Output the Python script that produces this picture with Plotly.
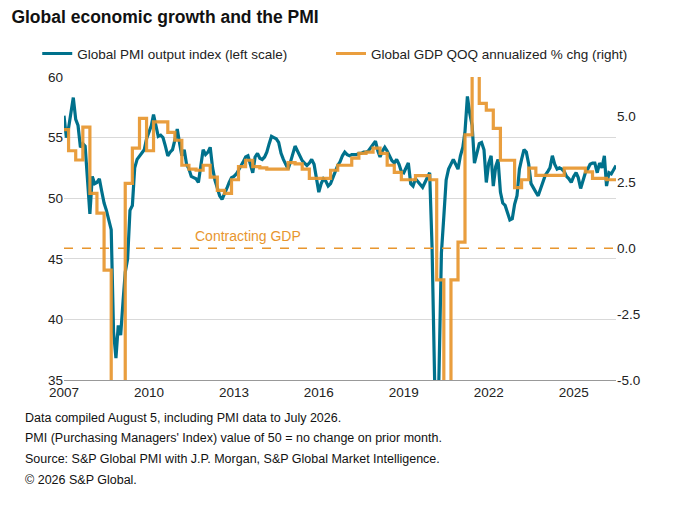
import pandas as pd
import plotly.graph_objects as go

pmi = [56.8,55.0,55.8,57.0,58.3,56.5,56.0,54.2,54.5,54.3,51.5,48.7,
51.8,51.2,51.3,51.6,50.6,49.6,49.0,48.2,47.4,39.0,36.8,39.5,
38.7,41.5,43.9,45.0,49.0,49.4,52.5,53.2,53.5,53.8,54.0,54.9,
55.5,56.0,56.9,55.8,55.1,55.2,55.0,54.3,53.5,53.8,54.0,54.8,
55.7,54.5,53.5,54.0,52.8,52.4,51.8,51.7,51.6,51.3,52.5,54.0,
53.6,53.8,54.2,52.5,51.5,50.8,50.2,49.9,50.3,50.8,51.3,51.7,
51.8,52.0,52.3,52.6,53.0,53.4,53.5,52.8,52.1,53.4,53.7,53.3,
53.2,53.4,53.8,54.5,55.1,55.0,54.9,54.6,53.7,53.2,52.8,52.4,
53.0,53.8,54.3,53.9,53.5,53.1,52.9,52.7,52.9,53.2,52.8,51.8,
50.5,51.2,51.6,51.4,51.0,51.2,51.7,52.1,52.7,53.0,53.5,53.8,
53.6,53.5,53.6,53.6,53.6,53.7,53.7,53.8,53.8,53.9,54.2,54.5,
54.7,53.9,53.4,53.9,54.2,53.9,53.5,53.1,52.9,53.2,52.8,52.2,
52.1,52.6,52.9,51.2,51.0,51.6,51.4,51.1,50.9,51.3,51.7,52.1,
46.0,39.0,26.2,36.0,45.5,48.5,51.5,52.4,52.8,53.2,52.8,52.4,
53.5,54.2,55.5,58.4,57.0,56.0,52.9,53.8,54.5,54.6,54.0,51.3,
52.9,53.5,51.0,52.6,53.2,50.5,49.6,49.4,48.8,48.2,48.3,49.5,
50.2,52.4,53.2,54.0,53.8,52.8,51.2,50.8,50.5,50.2,50.8,51.4,
51.9,52.2,52.5,53.5,52.8,52.4,52.5,52.4,52.2,51.8,51.6,51.3,
51.8,52.1,51.7,50.8,51.5,52.1,52.4,52.8,52.9,52.9,52.1,52.9,
52.5,53.5,51.0,52.1,52.0,52.3,52.7]
pmi_dates = pd.date_range("2007-01-01", periods=len(pmi), freq="MS")

gdp = [4.5,3.7,3.35,4.6, 2.08,1.33,-0.83,-7.0, -8.0,2.46,3.8,4.93,
3.7,4.8,4.8,4.4, 4.1,3.15,3.0,2.96, 3.15,2.7,2.2,2.08,
2.6,3.1,3.34,3.1, 3.05,3.0,3.0,3.0, 3.25,3.2,3.0,2.65,
2.65,2.65,2.96,3.15, 3.15,3.42,3.6,3.65, 3.8,3.6,3.15,2.88,
2.6,2.6,2.76,2.76, 2.6,-1.2,-20.0,-1.2, 0.23,4.3,10.0,5.5,
5.24,4.55,3.34,3.34, 2.3,2.6,3.04,2.77, 2.77,2.77,2.77,3.04,
3.04,3.04,2.9,2.65, 2.65,2.6]
gdp_dates = list(pd.date_range("2006-12-01", periods=len(gdp), freq="3MS")) + [pmi_dates[-1]]
gdp_vals = gdp + [gdp[-1]]

right_ticks = [-5, -2.5, 0, 2.5, 5]
right_labels = ["-5.0", "-2.5", "0.0", "2.5", "5.0"]
year_ticks = list(range(2007, 2026, 3))

teal = "#00718C"
orange = "#E8962E"
font = "Liberation Sans, Arial, sans-serif"

fig = go.Figure()
fig.add_trace(go.Scatter(x=pmi_dates, y=pmi, mode="lines", name="Global PMI output index (left scale)",
                         line=dict(color=teal, width=3.2), legend="legend"))
fig.add_trace(go.Scatter(x=gdp_dates, y=gdp_vals, mode="lines", name="Global GDP QOQ annualized % chg (right)",
                         line=dict(color=orange, width=3.2, shape="hv"), yaxis="y2", opacity=0.92,
                         legend="legend2"))

fig.add_shape(type="line", xref="paper", x0=0, x1=1, yref="y2", y0=0, y1=0,
              line=dict(color=orange, width=1.3, dash="dash"))
fig.add_annotation(x="2013-07-01", y=0.1, xref="x", yref="y2", text="Contracting GDP", showarrow=False,
                   yanchor="bottom", font=dict(color=orange, size=14, family=font))

leg = dict(orientation="h", xref="container", yref="container", xanchor="left", yanchor="middle",
           font=dict(size=13.5), itemwidth=30, bgcolor="rgba(0,0,0,0)")
fig.update_layout(
    width=680, height=508, plot_bgcolor="white", paper_bgcolor="white",
    margin=dict(l=56, r=72, t=69, b=136, autoexpand=False),
    font=dict(family=font, size=13.5, color="#222"),
    title=dict(text="<b>Global economic growth and the PMI</b>", x=0.005, xanchor="left",
               y=0.982, yanchor="middle", font=dict(size=17.5, color="#111")),
    legend=dict(leg, x=0.043, y=0.91),
    legend2=dict(leg, x=0.475, y=0.91),
    showlegend=True,
    xaxis=dict(range=[pmi_dates[0], pmi_dates[-1]], tickvals=[f"{y}-01-01" for y in year_ticks],
               ticktext=[str(y) for y in year_ticks], showgrid=False,
               showline=True, linecolor="#999", ticks="", tickfont=dict(size=13.5)),
    yaxis=dict(range=[35, 60], dtick=5, showgrid=True, gridcolor="#d9d9d9", zeroline=False,
               ticks="", tickfont=dict(size=13.5)),
    yaxis2=dict(range=[-5, 6.5], overlaying="y", side="right", tickvals=right_ticks,
                ticktext=right_labels, showgrid=False, zeroline=False, ticks="", tickfont=dict(size=13.5)),
)

notes = ["Data compiled August 5, including PMI data to July 2026.",
         "PMI (Purchasing Managers' Index) value of 50 = no change on prior month.",
         "Source: S&P Global PMI with J.P. Morgan, S&P Global Market Intelligence.",
         "© 2026 S&P Global."]
for i, t in enumerate(notes):
    fig.add_annotation(xref="paper", yref="paper", x=-0.074, xanchor="left", y=-0.125 - i*0.068,
                       yanchor="middle", text=t, showarrow=False, font=dict(size=12.5, color="#111"))

fig.write_html("out.html")
